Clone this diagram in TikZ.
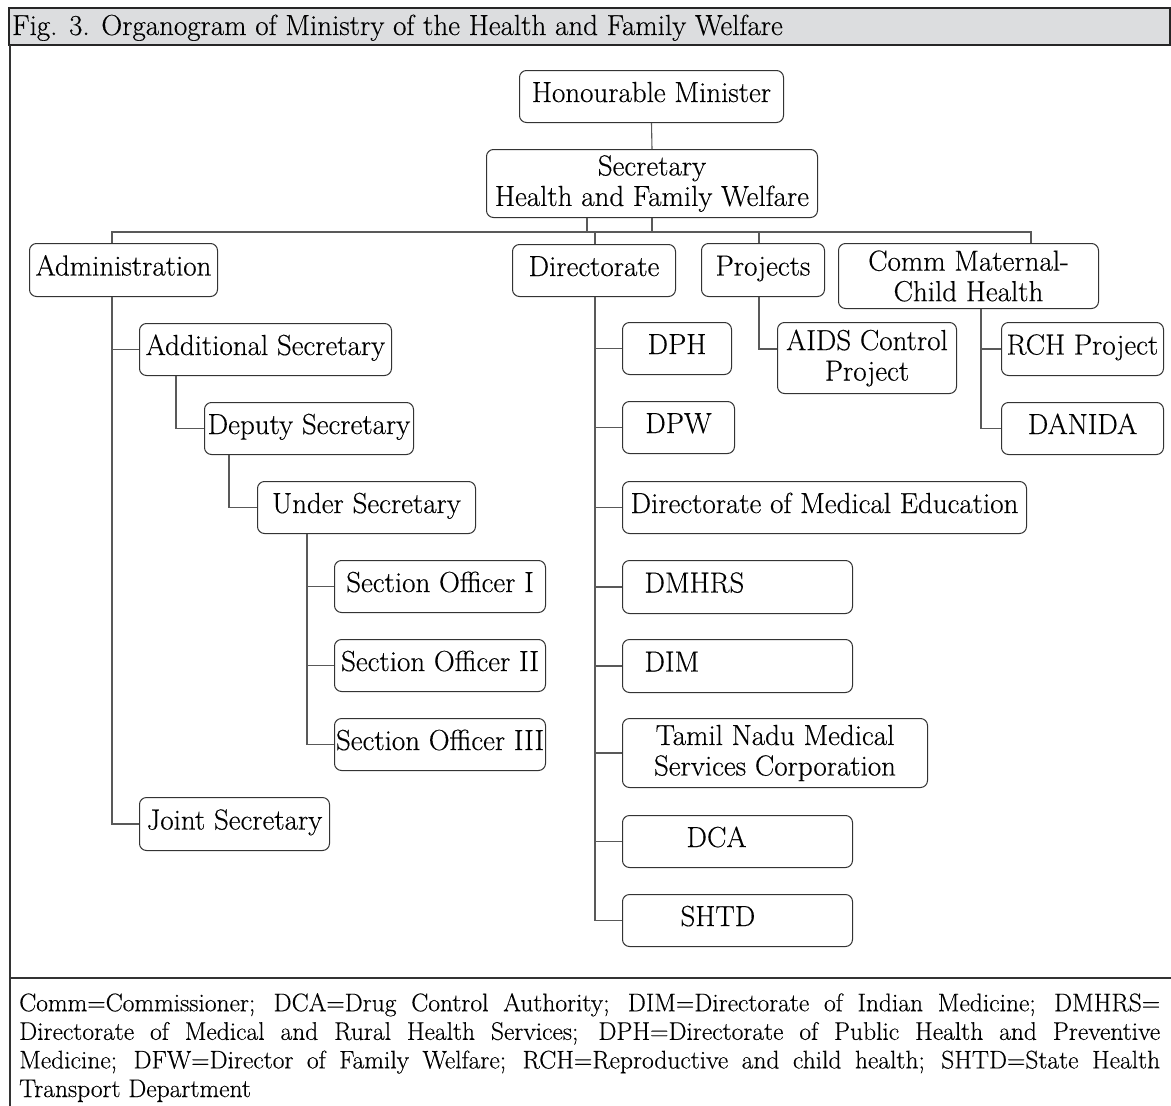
\documentclass[tikz,border=0pt]{standalone}
\usepackage{fontspec}
\setmainfont{Latin Modern Roman}[FakeBold=0.35]
\usetikzlibrary{calc}
\definecolor{headgray}{RGB}{220,221,223}

\begin{document}
\begin{tikzpicture}[x=1pt,y=-1pt,
    font=\fontsize{29}{30.5}\selectfont,
    box/.style={draw=black!80, line width=1pt, rounded corners=7pt, anchor=north west,
      inner xsep=0pt, inner ysep=0pt, minimum height=52pt},
    one/.style={text height=19pt, text depth=8pt},
    link/.style={draw=black!65, line width=1.1pt},
    bus/.style={to path={-- ++(0,14) -| (\tikztotarget)}},
    elbow/.style={to path={|- (\tikztotarget)}}]
  \useasboundingbox (0,0) rectangle (1171,1106);

  % frame and title
  \draw[fill=headgray, draw=black!85, line width=1.1pt] (9,8) rectangle (1170,45);
  \node[anchor=base west, inner sep=0pt] (title) at (12,35) {Fig. 3. Organogram of Ministry of the Health and Family Welfare};
  \draw[black!80, line width=1.1pt] (10,45) -- (10,1106);
  \draw[black!80, line width=1.1pt] (10,978) -- (1171,978);

  % top
  \node[box,one,minimum width=264pt] (min) at (519,70) {Honourable Minister};
  \node[box,align=center,minimum width=331pt,minimum height=68pt] (sec) at (486,149) {Secretary\\Health and Family Welfare};
  \node[box,one,minimum width=188pt,minimum height=53pt] (adm) at (29,243) {Administration};
  \node[box,one,minimum width=163pt] (dir) at (512,244) {Directorate};
  \node[box,one,minimum width=123pt,minimum height=53pt] (proj) at (701,243) {Projects};
  \node[box,align=center,minimum width=260pt,minimum height=65pt] (comm) at (838,243) {Comm Maternal-\\Child Health};

  % administration
  \node[box,one,minimum width=252pt] (addl) at (139,323) {Additional Secretary};
  \node[box,one,minimum width=209pt] (dep) at (204,402) {Deputy Secretary};
  \node[box,one,minimum width=218pt] (under) at (257,481) {Under Secretary};
  \node[box,one,minimum width=211pt] (so1) at (334,560) {Section Officer I};
  \node[box,one,minimum width=211pt] (so2) at (334,639) {Section Officer II};
  \node[box,one,minimum width=211pt] (so3) at (334,718) {Section Officer III};
  \node[box,one,minimum width=190pt,minimum height=53pt] (joint) at (139,797) {Joint Secretary};

  % directorate
  \node[box,one,minimum width=109pt] (dph) at (622,322) {DPH};
  \node[box,one,minimum width=112pt] (dpw) at (622,401) {DPW};
  \node[box,one,minimum width=404pt] (dme) at (622,481) {Directorate of Medical Education};
  \node[box,one,text width=230pt,align=left,minimum height=53pt] (dmhrs) at (622,560) {\hspace*{22pt}DMHRS};
  \node[box,one,text width=230pt,align=left,minimum height=53pt] (dim) at (622,639) {\hspace*{22pt}DIM};
  \node[box,align=center,minimum width=305pt,minimum height=69pt] (tnmsc) at (622,718) {Tamil Nadu Medical\\Services Corporation};
  \node[box,one,text width=230pt,align=left] (dca) at (622,815) {\hspace*{64pt}DCA};
  \node[box,one,text width=230pt,align=left] (shtd) at (622,894) {\hspace*{58pt}SHTD};

  % projects and comm
  \node[box,align=center,minimum width=179pt,minimum height=71pt] (aids) at (777,322) {AIDS Control\\Project};
  \node[box,one,minimum width=162pt,minimum height=53pt] (rch) at (1001,322) {RCH Project};
  \node[box,one,minimum width=162pt] (danida) at (1001,402) {DANIDA};

  % connectors
  \path[link] (min.south) edge (sec.north);
  \path[link] (sec.south -| 587,0) edge[bus] (adm.north -| 112,0);
  \path[link] (sec.south -| 587,0) edge[bus] (proj.north -| 759,0);
  \path[link] (sec.south) edge[bus] (dir.north -| 595,0);
  \path[link] (sec.south) edge[bus] (comm.north -| 1031,0);

  \path[link] (adm.south -| 112,0) edge[elbow] (addl.west);
  \path[link] (adm.south -| 112,0) edge[elbow] (joint.west);
  \path[link] (addl.south -| 176,0) edge[elbow] (dep.west);
  \path[link] (dep.south -| 229,0) edge[elbow] (under.west);
  \path[link] (under.south -| 307,0) edge[elbow] (so1.west);
  \path[link] (under.south -| 307,0) edge[elbow] (so2.west);
  \path[link] (under.south -| 307,0) edge[elbow] (so3.west);

  \path[link] (dir.south -| 595,0) edge[elbow] (dph.west);
  \path[link] (dir.south -| 595,0) edge[elbow] (dpw.west);
  \path[link] (dir.south -| 595,0) edge[elbow] (dme.west);
  \path[link] (dir.south -| 595,0) edge[elbow] (dmhrs.west);
  \path[link] (dir.south -| 595,0) edge[elbow] (dim.west);
  \path[link] (dir.south -| 595,0) edge[elbow] (tnmsc.west);
  \path[link] (dir.south -| 595,0) edge[elbow] (dca.west);
  \path[link] (dir.south -| 595,0) edge[elbow] (shtd.west);

  \path[link] (proj.south -| 759,0) edge[elbow] ($(aids.north west)+(0,27)$);
  \path[link] (comm.south -| 981,0) edge[elbow] (rch.west);
  \path[link] (comm.south -| 981,0) edge[elbow] (danida.west);

  % key
  \node[anchor=north west, inner sep=0pt, text width=1141pt, align=justify,
    font=\fontsize{25.5}{28.6}\selectfont] (key) at (19,993)
    {Comm=Commissioner; DCA=Drug Control Authority; DIM=Directorate of Indian Medicine; DMHRS=\linebreak
     Directorate of Medical and Rural Health Services; DPH=Directorate of Public Health and Preventive\linebreak
     Medicine; DFW=Director of Family Welfare; RCH=Reproductive and child health; SHTD=State Health\linebreak
     Transport Department};
\end{tikzpicture}
\end{document}
